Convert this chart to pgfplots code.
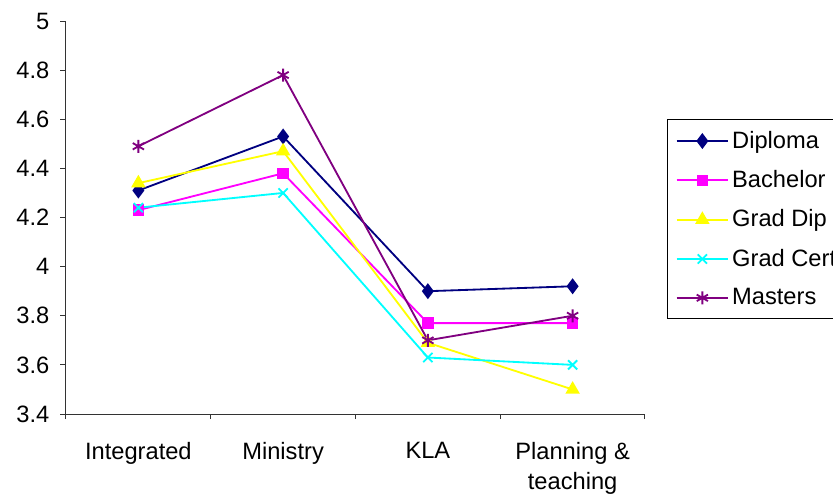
\documentclass[border=0pt]{standalone}
\usepackage{pgfplots}
\pgfplotsset{compat=1.18}
\usepackage{fontspec}
\setmainfont{Liberation Sans}
\definecolor{cDip}{RGB}{0,0,128}
\definecolor{cBac}{RGB}{255,0,255}
\definecolor{cGD}{RGB}{255,255,0}
\definecolor{cGC}{RGB}{0,255,255}
\definecolor{cMas}{RGB}{128,0,128}
\begin{document}
\begin{tikzpicture}[x=0.6pt,y=0.6pt]
\begin{axis}[
  at={(0,0)}, anchor=origin,
  scale only axis,
  width=347.4pt, height=235.8pt,
  xmin=0, xmax=4, ymin=3.4, ymax=5,
  axis x line=bottom, axis y line=left,
  axis line style={-, line width=0.6pt, black!80},
  xtick={0.5,1.5,2.5,3.5},
  xticklabels={Integrated, Ministry, KLA, {Planning \&\\teaching}},
  x tick label style={align=center, font=\fontsize{14.2}{18}\selectfont, yshift=-10pt},
  major x tick style={draw=none},
  minor xtick={0,1,2,3,4},
  minor tick length=3pt,
  minor x tick style={black!80, line width=0.6pt},
  ytick={3.4,3.6,...,5.01},
  y tick label style={font=\fontsize{14.2}{15}\selectfont, xshift=-3pt},
  /pgf/number format/assume math mode=true,
  major y tick style={black!80, line width=0.6pt},
  tick align=outside,
  major tick length=3.5pt,
  legend style={at={(1.038,0.7506)}, anchor=north west, draw=black, line width=0.6pt,
    font=\fontsize{14.2}{15}\selectfont, row sep=7.8pt, inner xsep=5pt, inner ysep=5pt,
    cells={anchor=west}},
  legend image code/.code={
    \draw[mark repeat=2,mark phase=2, line width=1.1pt] plot coordinates {(0cm,0cm) (0.54cm,0cm) (1.08cm,0cm)};
  },
  clip=false,
]
\addplot[color=cDip, line width=1.1pt, mark=diamond*, mark size=3.9pt] coordinates {(0.5,4.31) (1.5,4.53) (2.5,3.90) (3.5,3.92)};
\addlegendentry{Diploma}
\addplot[color=cBac, line width=1.1pt, mark=square*, mark size=2.9pt] coordinates {(0.5,4.23) (1.5,4.38) (2.5,3.77) (3.5,3.77)};
\addlegendentry{Bachelor}
\addplot[color=cGD, line width=1.1pt, mark=triangle*, mark size=3.9pt] coordinates {(0.5,4.34) (1.5,4.47) (2.5,3.69) (3.5,3.50)};
\addlegendentry{Grad Dip}
\addplot[color=cGC, line width=1.1pt, mark=x, mark size=3.9pt] coordinates {(0.5,4.24) (1.5,4.30) (2.5,3.63) (3.5,3.60)};
\addlegendentry{Grad Cert}
\addplot[color=cMas, line width=1.1pt, mark=asterisk, mark size=3.9pt] coordinates {(0.5,4.49) (1.5,4.78) (2.5,3.70) (3.5,3.80)};
\addlegendentry{Masters}
\end{axis}
\pgfresetboundingbox
\useasboundingbox (-66,-79) rectangle (767,414);
\end{tikzpicture}
\end{document}
